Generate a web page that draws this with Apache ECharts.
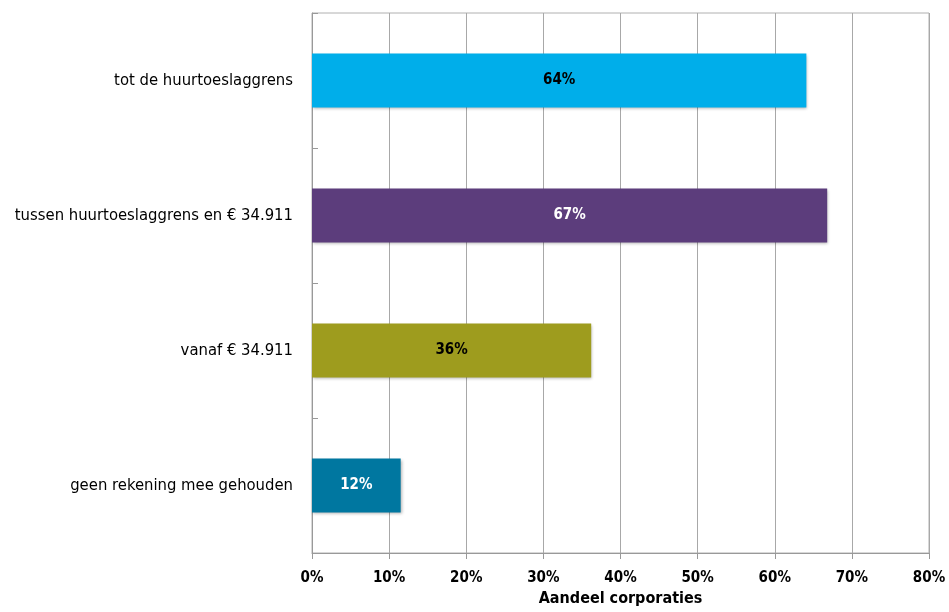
<!DOCTYPE html>
<html><head><meta charset="utf-8">
<script src="https://cdn.jsdelivr.net/npm/echarts@6/dist/echarts.min.js"></script>
<style>html,body{margin:0;padding:0;background:#fff}#c{width:949px;height:612px}</style>
</head><body><div id="c"></div>
<script>
const categories = ["tot de huurtoeslaggrens", "tussen huurtoeslaggrens en € 34.911", "vanaf € 34.911", "geen rekening mee gehouden"];
const values = [64.1, 66.8, 36.2, 11.5];
const barColors = ["#00AEEA", "#5C3D7C", "#9E9C1E", "#0077A0"];
const labelColors = ["#000000", "#ffffff", "#000000", "#ffffff"];
const xTicks = [0, 10, 20, 30, 40, 50, 60, 70, 80];

const font = '"Liberation Sans Narrow", "DejaVu Sans Condensed", sans-serif';
const chart = echarts.init(document.getElementById('c'));
chart.setOption({
  animation: false,
  grid: { left: 312, right: 20, top: 13, bottom: 54, containLabel: false, show: true, borderColor: '#b0b0b0', borderWidth: 1 },
  xAxis: {
    type: 'value', min: xTicks[0], max: xTicks[xTicks.length - 1], interval: 10,
    name: 'Aandeel corporaties', nameLocation: 'middle', nameGap: 38,
    nameTextStyle: { fontFamily: font, fontSize: 16, fontWeight: 'bold', color: '#000' },
    axisLine: { show: true, lineStyle: { color: '#999' } },
    axisTick: { show: true, length: 6, lineStyle: { color: '#999' } },
    axisLabel: { formatter: v => v + '%', fontFamily: font, fontSize: 15, fontWeight: 'bold', color: '#000', margin: 18 },
    splitLine: { show: true, lineStyle: { color: '#a8a8a8', width: 1 } }
  },
  yAxis: {
    type: 'category', data: categories, inverse: true,
    axisLine: { show: true, lineStyle: { color: '#999' } },
    axisTick: { show: true, inside: true, length: 6, lineStyle: { color: '#999' } },
    axisLabel: { fontFamily: font, fontSize: 16.5, color: '#000', margin: 19 },
    splitLine: { show: false }
  },
  series: [{
    type: 'bar', barWidth: '40%',
    data: values.map((v, i) => ({
      value: v,
      itemStyle: { color: barColors[i], shadowColor: 'rgba(0,0,0,0.3)', shadowBlur: 3, shadowOffsetX: 1, shadowOffsetY: 1 },
      label: { color: labelColors[i] }
    })),
    label: { show: true, position: 'inside', formatter: p => Math.round(p.value) + '%', fontFamily: font, fontSize: 15, fontWeight: 'bold' }
  }]
});
</script></body></html>
